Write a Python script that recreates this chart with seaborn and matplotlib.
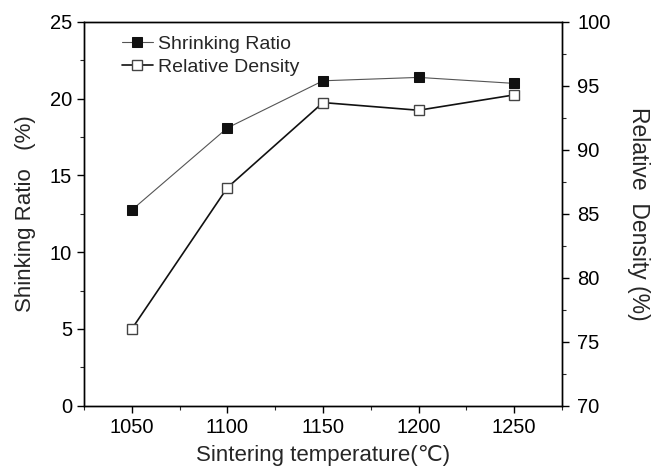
import matplotlib
matplotlib.use("Agg")
import matplotlib.pyplot as plt
from matplotlib.ticker import MultipleLocator
import seaborn as sns
import pandas as pd

temperatures = [1050, 1100, 1150, 1200, 1250]
shrinking_ratio = [12.75, 18.1, 21.17, 21.39, 21.0]
relative_density = [76.0, 87.05, 93.7, 93.1, 94.3]
left_ticks = [0, 5, 10, 15, 20, 25]
right_ticks = [70, 75, 80, 85, 90, 95, 100]
x_ticks = [1050, 1100, 1150, 1200, 1250]

sns.set_style("ticks")
plt.rcParams['font.family'] = ['Liberation Sans', 'DejaVu Sans', 'Noto Sans CJK SC']

df = pd.DataFrame({"T": temperatures, "SR": shrinking_ratio, "RD": relative_density})

fig = plt.figure(figsize=(6.64, 4.71), dpi=100)
ax = fig.add_axes([0.1265, 0.1386, 0.7199, 0.8147])
ax2 = ax.twinx()

sns.lineplot(data=df, x="T", y="SR", ax=ax, color="#555555", linewidth=0.8,
             marker="s", markersize=7.5, markerfacecolor="#111111",
             markeredgecolor="#111111", label="Shrinking Ratio", legend=False)
sns.lineplot(data=df, x="T", y="RD", ax=ax2, color="#111111", linewidth=1.2,
             marker="s", markersize=7.5, markerfacecolor="white",
             markeredgecolor="#444444", markeredgewidth=1.0,
             label="Relative Density", legend=False)

ax.set_xlim(1025, 1275)
ax.set_ylim(0, 25)
ax2.set_ylim(70, 100)
ax.set_xticks(x_ticks)
ax.set_yticks(left_ticks)
ax2.set_yticks(right_ticks)
ax.xaxis.set_minor_locator(MultipleLocator(25))
ax.yaxis.set_minor_locator(MultipleLocator(2.5))
ax2.yaxis.set_minor_locator(MultipleLocator(2.5))

for a in (ax, ax2):
    for s in a.spines.values():
        s.set_visible(True)
        s.set_linewidth(1.0)
        s.set_color("black")
    a.tick_params(which="major", direction="out", length=5, width=1.0, labelsize=14.5, colors="black")
    a.tick_params(which="minor", direction="out", length=3, width=0.8)
ax2.tick_params(axis="y", which="major", pad=6)

ax.set_xlabel("Sintering temperature(℃)", fontsize=16, labelpad=6)
ax.set_ylabel("Shinking Ratio   (%)", fontsize=16, labelpad=10)
ax2.set_ylabel("Relative  Density (%)", fontsize=16.5, rotation=270, labelpad=28)

h1, l1 = ax.get_legend_handles_labels()
h2, l2 = ax2.get_legend_handles_labels()
ax.legend(h1 + h2, l1 + l2, loc="upper left", frameon=False, fontsize=14,
          bbox_to_anchor=(0.05, 1.0), handlelength=1.6, handletextpad=0.3,
          labelspacing=0.25, borderaxespad=0.3)

fig.savefig("out.png", dpi=100)
